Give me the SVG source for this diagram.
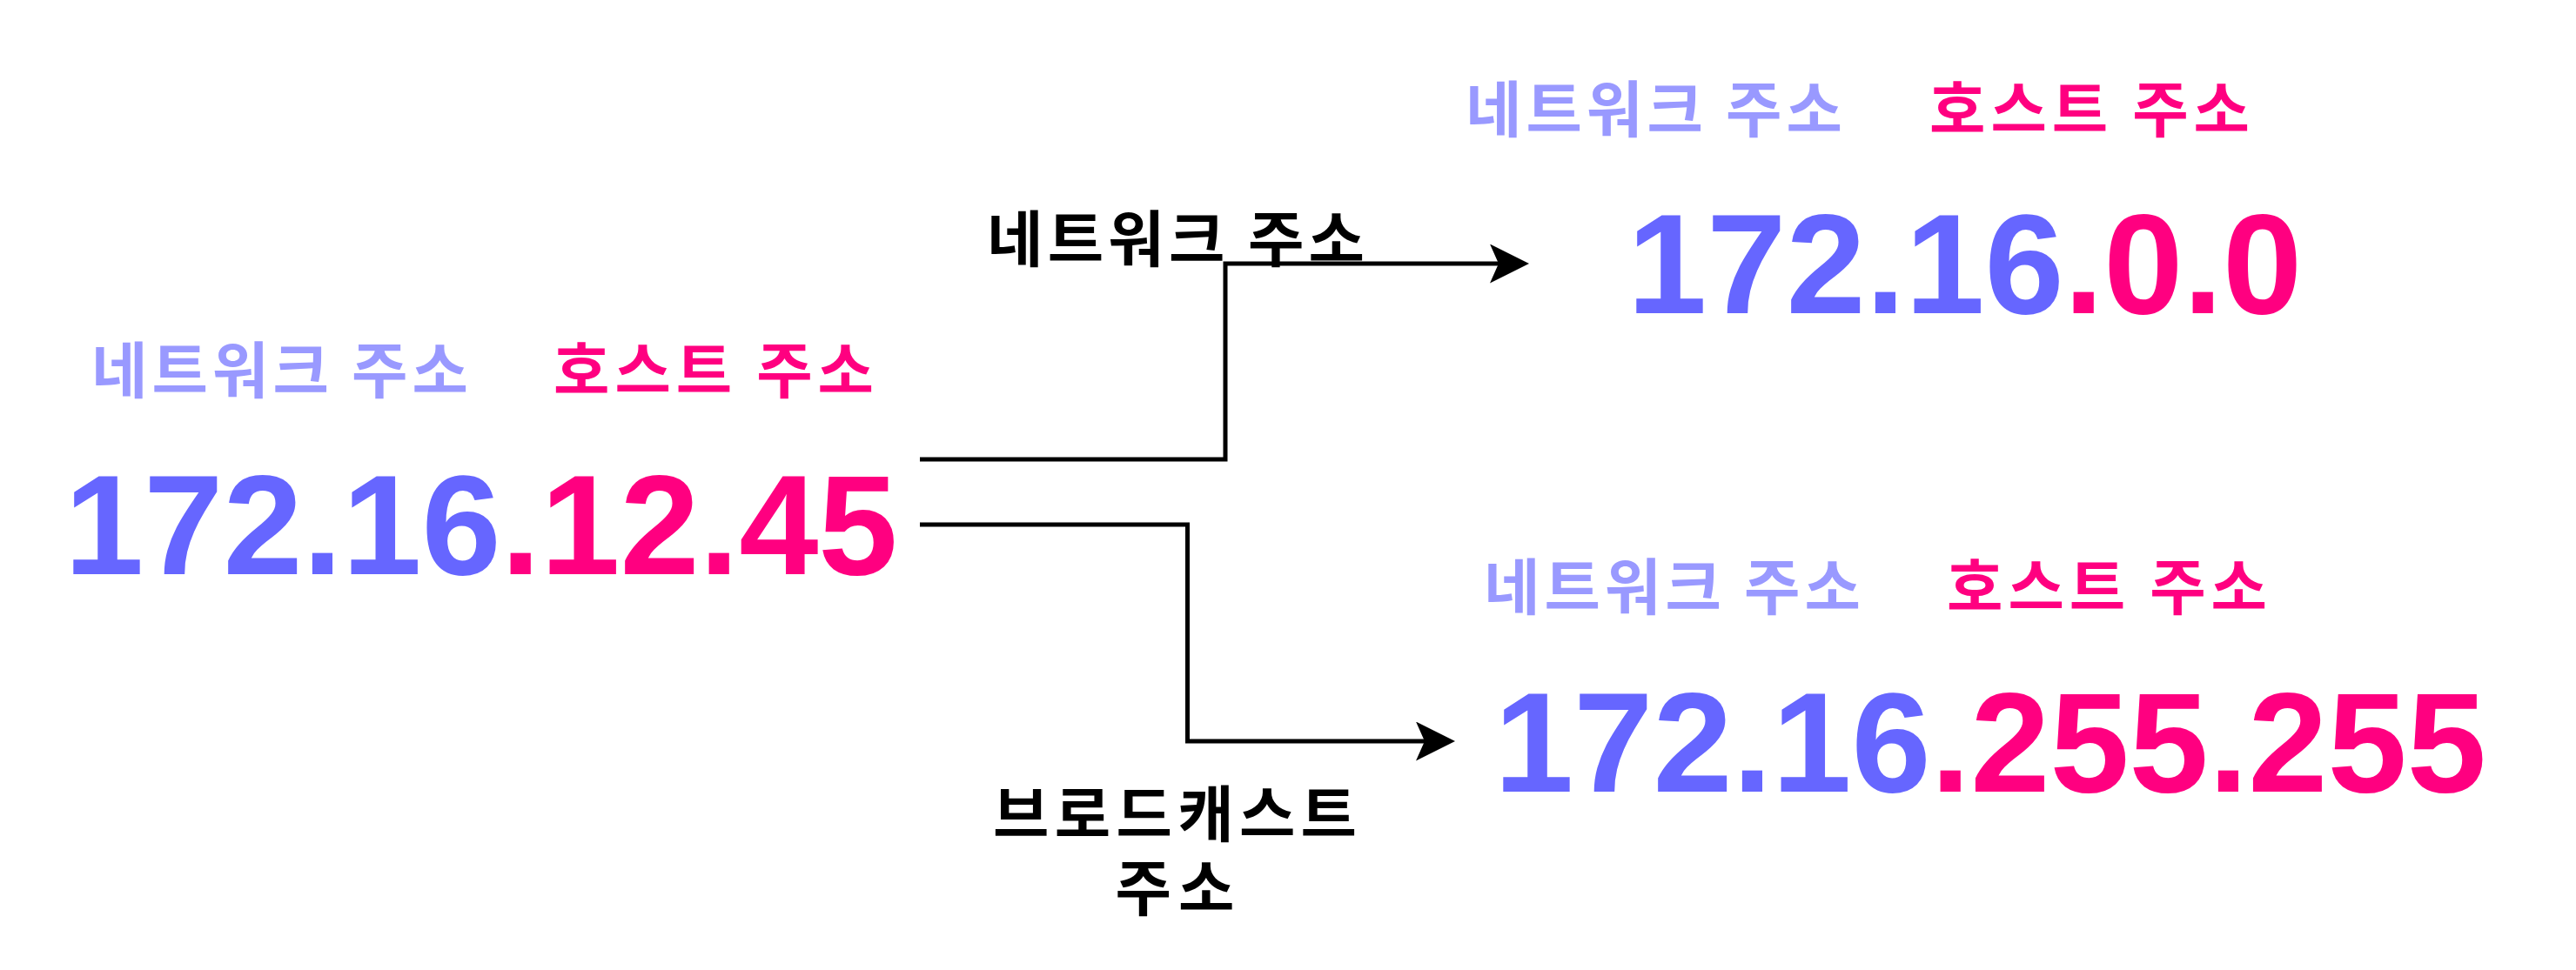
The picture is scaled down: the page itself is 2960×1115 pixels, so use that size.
<svg xmlns="http://www.w3.org/2000/svg" width="2960" height="1115" viewBox="0 0 2960 1115">
<style>
.ip{font-family:"Liberation Sans",Arial,sans-serif;font-weight:bold;font-size:164px}
.net{fill:#6666FF}
.host{fill:#FF0080}
.kr{font-family:"Noto Sans CJK KR","Noto Sans",sans-serif;font-weight:bold;font-size:70px}
.knet{fill:#9999FF}
.khost{fill:#FF0080}
.lbl{fill:#000000;text-anchor:middle}
.conn{fill:none;stroke:#000000;stroke-width:5}
</style>
<defs>
<marker id="arrow" markerUnits="userSpaceOnUse" markerWidth="50" markerHeight="50" refX="10" refY="22.5" orient="auto">
<path d="M0,0 L45,22.5 L0,45 L10,22.5 Z" fill="#000000"/>
</marker>
</defs>
<rect width="2960" height="1115" fill="#ffffff"/>
<g id="connectors">
<path class="conn" d="M1057,528 H1408 V303 H1722" marker-end="url(#arrow)"/>
<path class="conn" d="M1057,603 H1364.5 V852 H1637" marker-end="url(#arrow)"/>
<text class="kr lbl" x="1351" y="301" textLength="434" lengthAdjust="spacing">네트워크 주소</text>
<text class="kr lbl" x="1350" y="962" textLength="418" lengthAdjust="spacing">브로드캐스트</text>
<text class="kr lbl" x="1350" y="1047" textLength="137" lengthAdjust="spacing">주소</text>
</g>
<g id="source">
<text class="kr knet" x="105" y="452" textLength="433" lengthAdjust="spacing">네트워크 주소</text>
<text class="kr khost" x="636" y="452" textLength="368" lengthAdjust="spacing">호스트 주소</text>
<text class="ip" x="74" y="660"><tspan class="net">172.16</tspan><tspan class="host">.12.45</tspan></text>
</g>
<g id="network-address">
<text class="kr knet" x="1684" y="152" textLength="433" lengthAdjust="spacing">네트워크 주소</text>
<text class="kr khost" x="2217" y="152" textLength="368" lengthAdjust="spacing">호스트 주소</text>
<text class="ip" x="1870" y="360"><tspan class="net">172.16</tspan><tspan class="host">.0.0</tspan></text>
</g>
<g id="broadcast-address">
<text class="kr knet" x="1705" y="701" textLength="433" lengthAdjust="spacing">네트워크 주소</text>
<text class="kr khost" x="2237" y="701" textLength="368" lengthAdjust="spacing">호스트 주소</text>
<text class="ip" x="1717" y="910"><tspan class="net">172.16</tspan><tspan class="host">.255.255</tspan></text>
</g>
</svg>
